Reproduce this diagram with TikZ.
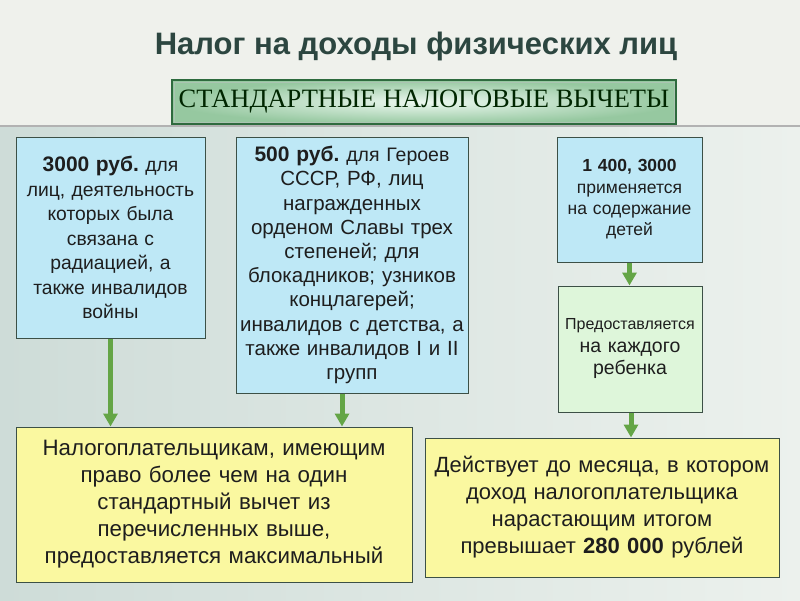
\documentclass[tikz,border=0pt]{standalone}
\usepackage{fontspec}
\setmainfont{Liberation Sans}
\newfontfamily\serifru{Liberation Serif}
\usetikzlibrary{arrows.meta}
\frenchspacing
\definecolor{bgtop}{RGB}{239,241,236}
\definecolor{bgleft}{RGB}{206,220,216}
\definecolor{bgright}{RGB}{236,241,237}
\definecolor{titlecol}{RGB}{44,70,64}
\definecolor{bannerdark}{RGB}{46,107,62}
\definecolor{bannerlight}{RGB}{236,248,240}
\definecolor{bannermid}{RGB}{150,200,160}
\definecolor{boxblue}{RGB}{190,232,246}
\definecolor{boxgreen}{RGB}{222,246,218}
\definecolor{boxyellow}{RGB}{250,248,160}
\definecolor{boxline}{RGB}{60,80,70}
\definecolor{arrowgreen}{RGB}{100,165,70}
\definecolor{textcol}{RGB}{30,30,30}
\tikzset{
  box/.style={draw=boxline, line width=1pt, inner sep=0pt, align=center, text=textcol},
  bluebox/.style={box, fill=boxblue},
  greenbox/.style={box, fill=boxgreen},
  yellowbox/.style={box, fill=boxyellow},
  garrow/.style={draw=arrowgreen, line width=5pt, -{Triangle[width=14pt,length=13pt]}}
}
\begin{document}
\begin{tikzpicture}[x=1pt,y=-1pt]
\useasboundingbox (0,0) rectangle (800,600);
% background
\fill[bgtop] (0,0) rectangle (800,126);
\shade[left color=bgleft, right color=bgright] (0,126) rectangle (800,600);
\draw[gray!60, line width=1.5pt] (0,126) -- (800,126);
% title
\node[text=titlecol, font=\bfseries\fontsize{31}{36}\selectfont] (title) at (416,46) {Налог на доходы физических лиц};
% banner
\node[draw=bannerdark, line width=2pt, inner color=bannerlight, outer color=bannermid,
      minimum width=504pt, minimum height=44pt, inner sep=0pt,
      font=\serifru\fontsize{26.5}{30}\selectfont, text=black!85!green] (banner) at (424,102) {СТАНДАРТНЫЕ НАЛОГОВЫЕ ВЫЧЕТЫ};
\draw[white!60!bannerdark, line width=0.8pt] ([shift={(3pt,-3pt)}]banner.north west) rectangle ([shift={(-3pt,3pt)}]banner.south east);
% box 1
\node[bluebox, minimum width=189pt, minimum height=201pt, text width=187pt,
      font=\fontsize{19.3}{24.5}\selectfont] (b1) at (110.5,237.5)
 {{\bfseries\fontsize{21}{24.5}\selectfont 3000 руб.} для\\лиц, деятельность\\которых была\\связана с\\радиацией, а\\также инвалидов\\войны};
% box 2
\node[bluebox, minimum width=232pt, minimum height=256pt, text width=231pt,
      font=\fontsize{20.5}{24.2}\selectfont] (b2) at (352,265)
 {{\bfseries\fontsize{21}{24.2}\selectfont 500 руб.} {\fontsize{19.5}{24.2}\selectfont для Героев}\\СССР, РФ, лиц\\награжденных\\орденом Славы трех\\степеней; для\\блокадников; узников\\концлагерей;\\инвалидов с детства, а\\также инвалидов I и II\\групп};
% box 3
\node[bluebox, minimum width=145pt, minimum height=125pt, text width=143pt,
      font=\fontsize{17.5}{21.3}\selectfont] (b3) at (629.5,199.5)
 {{\bfseries 1 400, 3000}\\применяется\\на содержание\\детей};
% box 4
\node[greenbox, minimum width=144pt, minimum height=126pt, text width=142pt,
      font=\fontsize{19.5}{22.5}\selectfont] (b4) at (630,349)
 {{\fontsize{16}{22.5}\selectfont Предоставляется}\\на каждого\\ребенка};
% box 5
\node[yellowbox, minimum width=396pt, minimum height=155pt, text width=394pt,
      font=\fontsize{22.3}{27}\selectfont] (b5) at (214,504.5)
 {Налогоплательщикам, имеющим\\право более чем на один\\стандартный вычет из\\перечисленных выше,\\предоставляется максимальный};
% box 6
\node[yellowbox, minimum width=354pt, minimum height=139pt, text width=352pt,
      font=\fontsize{22}{27}\selectfont] (b6) at (602,507.5)
 {Действует до месяца, в котором\\доход налогоплательщика\\нарастающим итогом\\превышает {\bfseries 280 000} рублей};
% arrows
\draw[garrow] (b1.south) -- (b1.south |- b5.north);
\draw[garrow] ([xshift=-10pt]b2.south) -- ([xshift=-10pt]b2.south |- b5.north);
\draw[garrow] (b3.south) -- (b3.south |- b4.north);
\draw[garrow] ([xshift=1pt]b4.south) -- ([xshift=1pt]b4.south |- b6.north);
\end{tikzpicture}
\end{document}
